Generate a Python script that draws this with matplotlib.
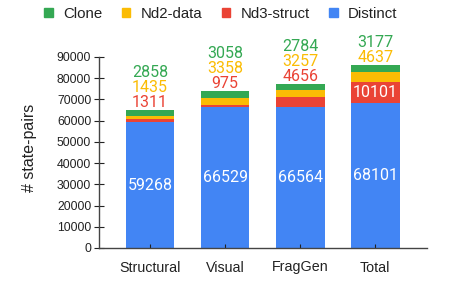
import matplotlib
matplotlib.use("Agg")
import matplotlib.pyplot as plt
import numpy as np
from matplotlib.patches import Patch

plt.rcParams['font.family'] = ['Liberation Sans', 'DejaVu Sans']

categories = ["Structural", "Visual", "FragGen", "Total"]
distinct = [59268, 66529, 66564, 68101]
nd3_struct = [1311, 975, 4656, 10101]
nd2_data = [1435, 3358, 3257, 4637]
clone = [2858, 3058, 2784, 3177]
yticks = [0, 10000, 20000, 30000, 40000, 50000, 60000, 70000, 80000, 90000]

c_blue = "#4285F4"
c_red = "#EA4335"
c_yellow = "#FBBC04"
c_green = "#34A853"
txt = "#222222"

fig = plt.figure(figsize=(4.49, 2.83), dpi=100)
ax = fig.add_axes([99/449, 1 - 248/283, (427-99)/449, (248-57)/283])

x = np.arange(len(categories))
w = 0.65
d = np.array(distinct); r = np.array(nd3_struct); yv = np.array(nd2_data); g = np.array(clone)
ax.bar(x, d, w, color=c_blue)
ax.bar(x, r, w, bottom=d, color=c_red)
ax.bar(x, yv, w, bottom=d + r, color=c_yellow)
ax.bar(x, g, w, bottom=d + r + yv, color=c_green)

fs = 11.5
step = 7100
lab_font = ['Roboto', 'DejaVu Sans']
for i in range(len(categories)):
    top = d[i] + r[i] + yv[i] + g[i]
    ax.text(x[i], d[i] / 2, str(d[i]), ha='center', va='center', color='white', fontsize=fs,
            family=lab_font)
    if r[i] > 5000:
        ax.text(x[i], d[i] + r[i] / 2, str(r[i]), ha='center', va='center', color='white',
                fontsize=fs, family=lab_font)
        labels = [(yv[i], c_yellow), (g[i], c_green)]
    else:
        labels = [(r[i], c_red), (yv[i], c_yellow), (g[i], c_green)]
    for k, (v, c) in enumerate(labels):
        ax.text(x[i], top + 3700 + k * step, str(v), ha='center', va='center', color=c,
                fontsize=fs, clip_on=False, family=lab_font)

ax.set_xlim(-0.68, 3.69)
ax.set_ylim(0, 90000)
ax.set_yticks(yticks)
ax.set_yticklabels([str(t) for t in yticks])
ax.set_xticks(x)
ax.set_xticklabels(categories)
ax.tick_params(axis='y', direction='inout', length=7.2, labelsize=8.8, colors=txt, pad=2)
ax.tick_params(axis='x', direction='in', length=3, labelsize=10.3, colors=txt, pad=9)
for s in ['top', 'right']:
    ax.spines[s].set_visible(False)
for s in ['left', 'bottom']:
    ax.spines[s].set_color('#444444')
    ax.spines[s].set_linewidth(1.0)
ax.set_ylabel("# state-pairs", fontsize=11.5, color=txt)
ax.yaxis.set_label_coords(-(99 - 37) / (427 - 99), (248 - 148) / (248 - 57))

handles = [Patch(color=c_green, label="Clone"), Patch(color=c_yellow, label="Nd2-data"),
           Patch(color=c_red, label="Nd3-struct"), Patch(color=c_blue, label="Distinct")]
fig.legend(handles=handles, loc='center', bbox_to_anchor=(221/449, 1 - 14/283), ncol=4,
           frameon=False, fontsize=10.8, handlelength=0.55, handleheight=0.55, handletextpad=0.7,
           columnspacing=1.3, labelcolor=txt)

fig.savefig("out.png", dpi=100)
